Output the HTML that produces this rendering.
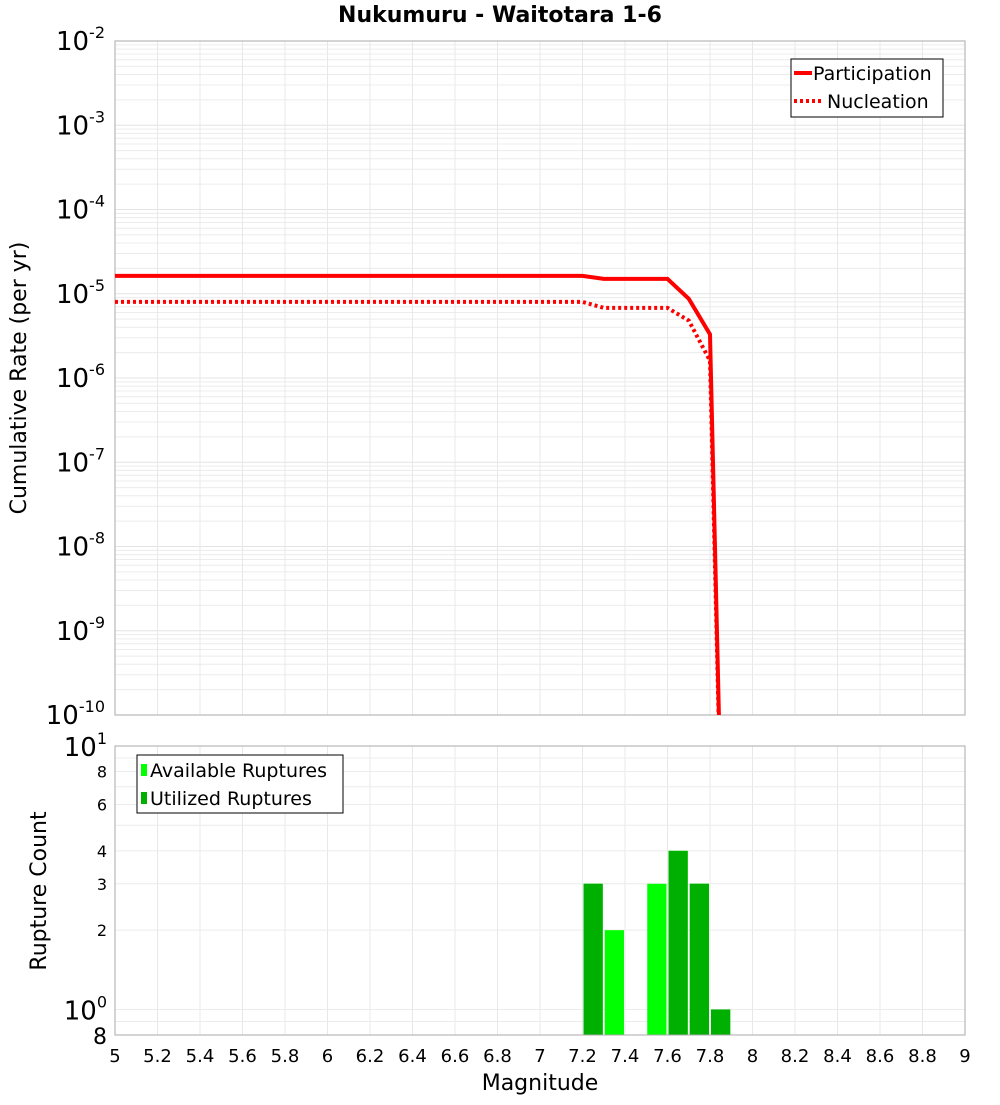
<!DOCTYPE html>
<html><head><meta charset="utf-8"><style>
body{margin:0;background:#fff;}
svg text{font-family:"DejaVu Sans","Liberation Sans",sans-serif;}
</style></head><body>
<svg id="c" width="1000" height="1100" xmlns="http://www.w3.org/2000/svg">
<defs>
<clipPath id="topclip"><rect x="115" y="41" width="850" height="674"/></clipPath>
</defs>
<text x="500" y="22" text-anchor="middle" font-size="22" font-weight="bold">Nukumuru - Waitotara 1-6</text>
<g id="topg"></g>
<g id="botg"></g>
<text x="540" y="1090" text-anchor="middle" font-size="22">Magnitude</text>
<text transform="translate(26,378) rotate(-90)" text-anchor="middle" font-size="22">Cumulative Rate (per yr)</text>
<text transform="translate(46,891) rotate(-90)" text-anchor="middle" font-size="22">Rupture Count</text>
<g>
<rect x="791" y="59" width="152" height="58" fill="#fff" stroke="#000" stroke-width="1"/>
<line x1="794" y1="73" x2="812" y2="73" stroke="red" stroke-width="4"/>
<text x="813" y="80" font-size="19">Participation</text>
<line x1="794" y1="101" x2="822" y2="101" stroke="red" stroke-width="4" stroke-dasharray="3,3"/>
<text x="827" y="108" font-size="19">Nucleation</text>
</g>
<g>
<rect x="137" y="755" width="206" height="58" fill="#fff" stroke="#000" stroke-width="1"/>
<rect x="141" y="764" width="6" height="12" fill="#00ff00"/>
<text x="150" y="777" font-size="19">Available Ruptures</text>
<rect x="141" y="792" width="6" height="12" fill="#00b000"/>
<text x="150" y="805" font-size="19">Utilized Ruptures</text>
</g>
</svg>
<script>
const mags = [5.0, 7.2, 7.3, 7.6, 7.7, 7.8, 7.85];
const participation = [1.63e-5, 1.63e-5, 1.5e-5, 1.5e-5, 8.7e-6, 3.3e-6, 1.4e-11];
const nucleation = [8.0e-6, 8.0e-6, 6.8e-6, 6.8e-6, 4.8e-6, 1.6e-6, 1.0e-11];
const binCenters = [7.25, 7.35, 7.45, 7.55, 7.65, 7.75, 7.85];
const available = [3, 2, 0, 3, 4, 3, 1];
const utilized = [3, 0, 0, 0, 4, 3, 1];
const xTicks = [5,5.2,5.4,5.6,5.8,6,6.2,6.4,6.6,6.8,7,7.2,7.4,7.6,7.8,8,8.2,8.4,8.6,8.8,9];
const topExps = [-2,-3,-4,-5,-6,-7,-8,-9,-10];
const botTicks = [8,6,4,3,2];

const NS="http://www.w3.org/2000/svg";
const X0=115,X1=965;
const x=m=>X0+(m-5)/4*(X1-X0);
const TY0=41,TY1=715;
const yt=v=>TY0+(-2-Math.log10(v))/8*(TY1-TY0);
const BY0=746,BY1=1035;
const yb=v=>BY0+(1-Math.log10(v))/(1-Math.log10(0.8))*(BY1-BY0);
function mk(tag,attrs,parent){const e=document.createElementNS(NS,tag);for(const k in attrs)e.setAttribute(k,attrs[k]);parent.appendChild(e);return e;}
const topG=document.getElementById('topg'),botG=document.getElementById('botg');
for(let d=-10;d<-2;d++){for(let k=1;k<10;k++){const v=k*Math.pow(10,d);const l=mk('line',{x1:X0,x2:X1,y1:yt(v),y2:yt(v),stroke:k==1?'#e4e4e4':'#ececec','stroke-width':1},topG);

}}
for(const t of xTicks){const l=mk('line',{x1:x(t),x2:x(t),y1:TY0,y2:TY1,stroke:'#e8e8e8'},topG);


const l2=mk('line',{x1:x(t),x2:x(t),y1:BY0,y2:BY1,stroke:'#e8e8e8'},botG);


const tx=mk('text',{x:x(t),y:1062,'text-anchor':'middle','font-size':18},botG);tx.textContent=String(t);

}
mk('rect',{x:X0,y:TY0,width:X1-X0,height:TY1-TY0,fill:'none',stroke:'#aaa'},topG);
for(const e of topExps){const t=mk('text',{x:105,y:yt(Math.pow(10,e))+9,'text-anchor':'end','font-size':26},topG);


t.textContent='10';const s=mk('tspan',{dy:-12,'font-size':16},t);s.textContent=String(e);}
function path(vals){return mags.map((m,i)=>(i?'L':'M')+x(m).toFixed(1)+','+yt(vals[i]).toFixed(1)).join(' ');}
const g=mk('g',{'clip-path':'url(#topclip)'},topG);
const p1=mk('path',{d:path(participation),fill:'none',stroke:'red','stroke-width':4},g);


const p2=mk('path',{d:path(nucleation),fill:'none',stroke:'red','stroke-width':4,'stroke-dasharray':'3,3'},g);


for(const v of [1,2,3,4,5,6,7,8,9,10,0.8,0.9]){const l=mk('line',{x1:X0,x2:X1,y1:yb(v),y2:yb(v),stroke:'#ececec'},botG);

}
for(const v of botTicks){const t=mk('text',{x:107,y:yb(v)+6,'text-anchor':'end','font-size':16},botG);t.textContent=String(v);

}
[[10,'1'],[1,'0']].forEach(([v,e])=>{const t=mk('text',{x:107,y:yb(v)+10,'text-anchor':'end','font-size':26},botG);t.textContent='10';const s=mk('tspan',{dy:-12,'font-size':16},t);s.textContent=e;

});
{const t=mk('text',{x:107,y:BY1+9,'text-anchor':'end','font-size':22},botG);t.textContent='8';

}
function bars(vals,color,name){binCenters.forEach((c,i)=>{if(vals[i]<=0)return;const y=yb(vals[i]);const r=mk('rect',{x:x(c-0.05)+1,y:y,width:x(c+0.05)-x(c-0.05)-2,height:BY1-y,fill:color},botG);

});}
bars(available,'#00ff00','available-bar');
bars(utilized,'#00b000','utilized-bar');
mk('rect',{x:X0,y:BY0,width:X1-X0,height:BY1-BY0,fill:'none',stroke:'#aaa'},botG);
</script>
</body></html>
